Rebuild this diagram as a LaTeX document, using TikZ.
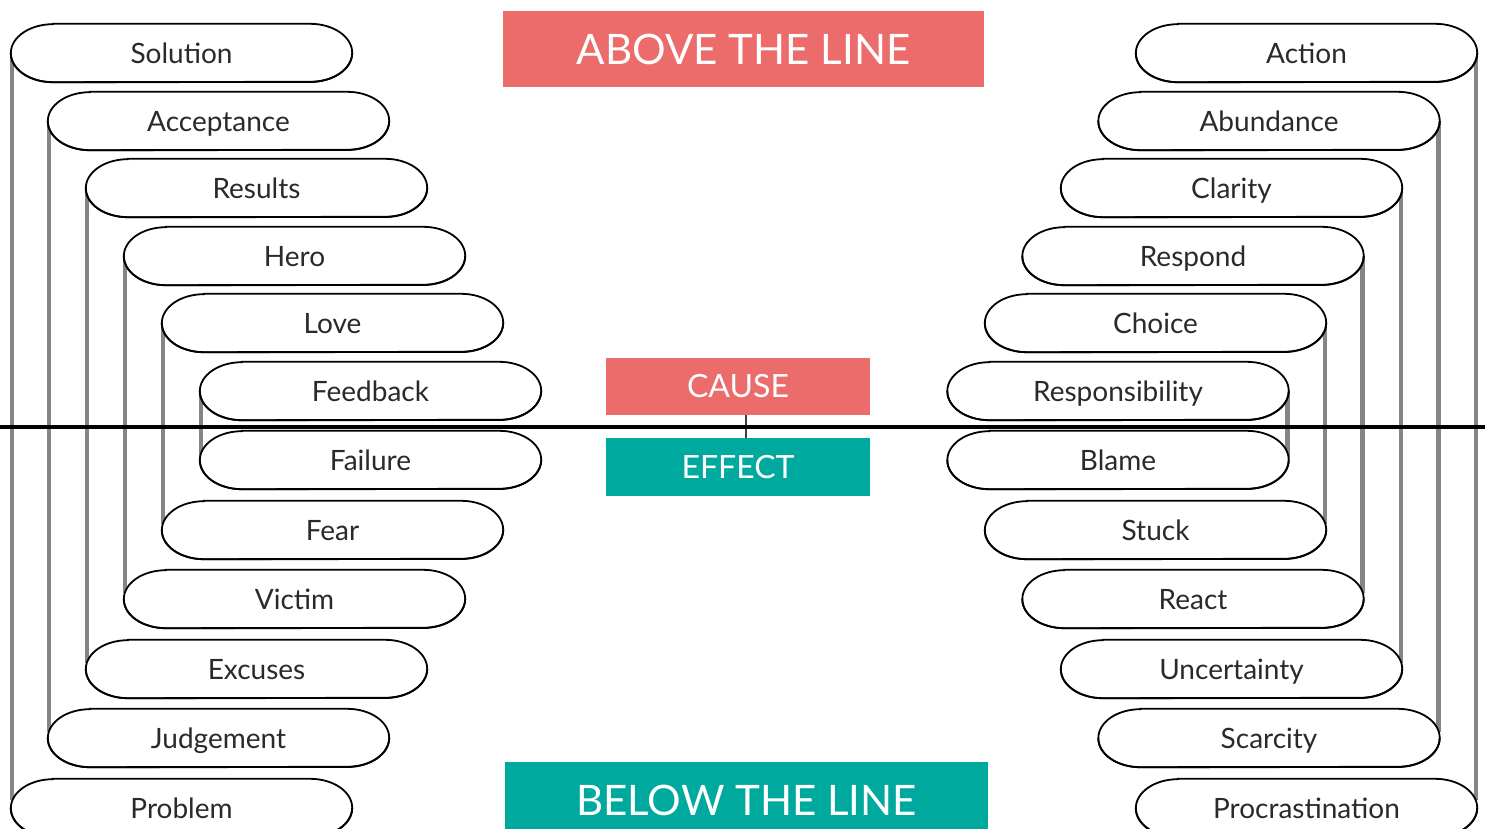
\documentclass[tikz,border=0pt]{standalone}
\usepackage{fontspec}
\setmainfont{Lato}
\usetikzlibrary{calc}
\definecolor{redbox}{HTML}{EC6B6B}
\definecolor{tealbox}{HTML}{00A99E}
\definecolor{bargray}{HTML}{858585}
\definecolor{txt}{HTML}{2A2A2A}
\pgfdeclarelayer{bars}
\pgfdeclarelayer{shapes}
\pgfsetlayers{bars,shapes,main}
\newcommand\stadiumoutline[1]{%
  \begin{pgfonlayer}{shapes}
  \draw[line width=1.8pt,fill=white] ($(#1.north west)+(42,0)$) -- ($(#1.north east)+(-42,0)$)
     arc[start angle=90,end angle=-90,x radius=42pt,y radius=29pt]
     -- ($(#1.south west)+(42,0)$)
     arc[start angle=270,end angle=90,x radius=42pt,y radius=29pt] -- cycle;
  \draw[line width=1.8pt,yshift=-1pt] (#1.east)
     arc[start angle=0,end angle=-90,x radius=42pt,y radius=29pt]
     -- ($(#1.south west)+(42,0)$)
     arc[start angle=270,end angle=180,x radius=42pt,y radius=29pt];
  \end{pgfonlayer}}
\begin{document}
\begin{tikzpicture}[x=1pt,y=-1pt,
  item/.style={minimum width=341pt,minimum height=58pt,inner sep=0pt,text=txt,
    text height=24pt,text depth=3pt,font=\fontsize{28}{30}\selectfont},
  bar/.style={draw=bargray,line width=4.5pt},
  banner/.style={inner sep=0pt,text=white},
  theline/.style={line width=3.5pt,black},
  link/.style={line width=1.2pt,draw=black!75}]
\useasboundingbox (0,0) rectangle (1485,829);

\foreach \nm/\lab/\px/\py in {
  L1/Solution/181.5/53, L2/Acceptance/218.5/121, L3/Results/256.5/188,
  L4/Hero/294.5/256, L5/Love/332.5/323, L6/Feedback/370.5/391,
  L7/Failure/370.5/460, L8/Fear/332.5/530, L9/Victim/294.5/599,
  L10/Excuses/256.5/669, L11/Judgement/218.5/738, L12/Problem/181.5/808,
  R1/Action/1306.5/53, R2/Abundance/1269/121, R3/Clarity/1231.5/188,
  R4/Respond/1193/256, R5/Choice/1155.5/323, R6/Responsibility/1118/391,
  R7/Blame/1118/460, R8/Stuck/1155.5/530, R9/React/1193/599,
  R10/Uncertainty/1231.5/669, R11/Scarcity/1269/738, R12/Procrastination/1306.5/808}{
  \node[item] (\nm) at (\px,\py) {\lab};
  \stadiumoutline{\nm}
}

\begin{pgfonlayer}{bars}
\draw[bar] ($(L1.west)+(1,0)$) -- ($(L12.west)+(1,-8)$);
\draw[bar] ($(L2.west)+(1,0)$) -- ($(L11.west)+(1,-6)$);
\draw[bar] ($(L3.west)+(1,0)$) -- ($(L10.west)+(1,-6)$);
\draw[bar] ($(L4.west)+(1,0)$) -- ($(L9.west)+(1,-6)$);
\draw[bar] ($(L5.west)+(1,0)$) -- ($(L8.west)+(1,-6)$);
\draw[bar] ($(L6.west)+(1,0)$) -- ($(L7.west)+(1,-2)$);
\draw[bar] ($(R1.east)+(-1,0)$) -- ($(R12.east)+(-1,-8)$);
\draw[bar] ($(R2.east)+(-1,0)$) -- ($(R11.east)+(-1,-6)$);
\draw[bar] ($(R3.east)+(-1,0)$) -- ($(R10.east)+(-1,-6)$);
\draw[bar] ($(R4.east)+(-1,0)$) -- ($(R9.east)+(-1,-6)$);
\draw[bar] ($(R5.east)+(-1,0)$) -- ($(R8.east)+(-1,-6)$);
\draw[bar] ($(R6.east)+(-1,0)$) -- ($(R7.east)+(-1,-2)$);
\end{pgfonlayer}

\node[banner,fill=redbox,minimum width=481pt,minimum height=76pt,font=\fontsize{42}{42}\selectfont] (above) at (743.5,49) {ABOVE THE LINE};
\node[banner,fill=redbox,minimum width=264pt,minimum height=57pt,font=\fontsize{32}{32}\selectfont] (cause) at (738,386.5) {CAUSE};
\node[banner,fill=tealbox,minimum width=264pt,minimum height=58pt,font=\fontsize{32}{32}\selectfont] (effect) at (738,467) {EFFECT};
\node[banner,fill=tealbox,minimum width=483pt,minimum height=76pt,font=\fontsize{42}{42}\selectfont] (below) at (746.5,800) {BELOW THE LINE};

\draw[link] ($(cause.south)+(8,0)$) -- ($(effect.north)+(8,0)$);
\coordinate (hl) at (0,427);
\coordinate (hr) at (1485,427);
\draw[theline] (hl) -- (hr);
\end{tikzpicture}
\end{document}
